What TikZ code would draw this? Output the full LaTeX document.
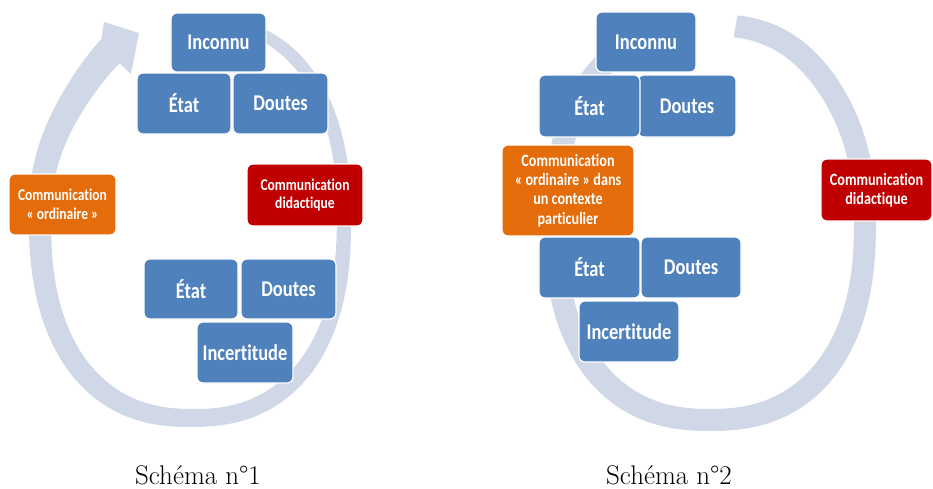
\documentclass[tikz,border=0pt]{standalone}
\usepackage{fontspec}
\newfontfamily\bfont[FakeStretch=0.82, Ligatures=NoCommon]{Carlito}
\definecolor{bluebox}{HTML}{4F81BD}
\definecolor{orangebox}{HTML}{E46C0A}
\definecolor{redbox}{HTML}{C00000}
\definecolor{ringc}{HTML}{D0D8E8}
\tikzset{
  box/.style={rounded corners=6pt, draw=white, line width=1.2pt, text=white, align=center, inner sep=0pt, anchor=center},
  big/.style={box, fill=bluebox, font=\bfont\bfseries\fontsize{22.5}{26}\selectfont},
  smallA/.style={box, font=\bfont\bfseries\fontsize{16.5}{18.5}\selectfont},
  smallB/.style={box, font=\bfont\bfseries\fontsize{17.3}{19.3}\selectfont},
  captext/.style={font=\fontsize{27}{30}\selectfont, anchor=base, inner sep=0pt}
}
\begin{document}
\begin{tikzpicture}[x=1pt,y=-1pt,
  declare function={
    sc(\t)=cos(\t)*pow(abs(cos(\t))+0.0001,-0.15);
    ss(\t)=sin(\t)*pow(abs(sin(\t))+0.0001,-0.15);
    qul(\t)=(cos(\t)<0)*(sin(\t)<0)*4*pow(sin(\t)*cos(\t),2);
    qur(\t)=(cos(\t)>0)*(sin(\t)<0)*4*pow(sin(\t)*cos(\t),2);
    fa(\t)=(\t+77)/312;
    wa(\t)=11+13*fa(\t)+5*pow(fa(\t),10);
  }]
\useasboundingbox (0,0) rectangle (933,488);
% ---------- ring of diagram 1 (tapered circular arrow) ----------
\coordinate (hb1) at (104,22);
\coordinate (htip) at (139,33);
\coordinate (hb2) at (131,74);
\fill[ringc]
  plot[domain=-77:235, samples=140, variable=\t]
    ({192+(152+wa(\t)/2)*sc(\t)+15*qul(\t)}, {219+(199+wa(\t)/2)*ss(\t)})
  -- (hb1) -- (htip) -- (hb2) --
  plot[domain=235:-77, samples=140, variable=\t]
    ({192+(152-wa(\t)/2)*sc(\t)+15*qul(\t)}, {219+(199-wa(\t)/2)*ss(\t)})
  -- cycle;
% ---------- ring of diagram 2 ----------
\fill[ringc]
  plot[domain=-83:238, samples=140, variable=\t]
    ({710+166*sc(\t)-5*qur(\t)}, {222.5+208.5*ss(\t)})
  --
  plot[domain=238:-83, samples=140, variable=\t]
    ({710+144*sc(\t)-5*qur(\t)}, {222.5+186.5*ss(\t)})
  -- cycle;
% ---------- boxes of diagram 1 ----------
\node[big, minimum width=95pt, minimum height=59pt] (inc1) at (218.5,42.5) {Inconnu};
\node[big, minimum width=94pt, minimum height=61pt] (eta1) at (184,103.5) {État};
\node[big, minimum width=95pt, minimum height=61pt] (dou1) at (280.5,103.5) {Doutes};
\node[smallA, fill=redbox, minimum width=116pt, minimum height=62pt] (did1) at (305,195) {Communication\\didactique};
\node[smallA, fill=orangebox, minimum width=107pt, minimum height=61pt] (ord1) at (62.5,204.5) {Communication\\« ordinaire »};
\node[big, minimum width=94pt, minimum height=60pt] (etb1) at (191,289) {État};
\node[big, minimum width=95pt, minimum height=60pt] (dob1) at (288.5,289) {Doutes};
\node[big, minimum width=96pt, minimum height=61pt] (inr1) at (245,352.5) {Incertitude};
% ---------- boxes of diagram 2 ----------
\node[big, minimum width=100pt, minimum height=60pt] (inc2) at (646,42) {Inconnu};
\node[big, minimum width=98pt, minimum height=62pt] (dou2) at (687,106) {Doutes};
\node[big, minimum width=101pt, minimum height=62pt] (eta2) at (589.5,106) {État};
\node[smallB, fill=orangebox, minimum width=132pt, minimum height=91pt] (ord2) at (568,190.5) {Communication\\« ordinaire » dans\\un contexte\\particulier};
\node[smallB, fill=redbox, minimum width=111pt, minimum height=62pt] (did2) at (876.5,190) {Communication\\didactique};
\node[big, minimum width=100pt, minimum height=61pt] (dob2) at (691,267.5) {Doutes};
\node[big, minimum width=101pt, minimum height=61pt] (etb2) at (589.5,267.5) {État};
\node[big, minimum width=100pt, minimum height=61pt] (inr2) at (629,331.5) {Incertitude};
% ---------- captions ----------
\node[captext] (cap1) at (198,484) {Schéma n°\oldstylenums{1}};
\node[captext] (cap2) at (669,484) {Schéma n°\oldstylenums{2}};
\end{tikzpicture}
\end{document}
